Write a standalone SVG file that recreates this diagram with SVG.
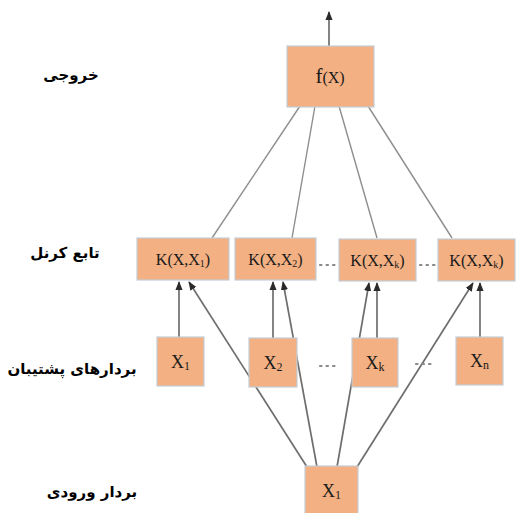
<svg xmlns="http://www.w3.org/2000/svg" width="516" height="513" viewBox="0 0 516 513">
<defs>
<marker id="arr" markerUnits="userSpaceOnUse" markerWidth="9" markerHeight="9" viewBox="0 0 10 10" refX="9" refY="5" orient="auto">
<path d="M0,1 L10,5 L0,9 Z" fill="#2a2a2a"/>
</marker>
<style>
.box{fill:#F3B083;stroke:#C3CDD8;stroke-width:1.2}
.lbl{font-family:"Liberation Serif","Times New Roman",serif;fill:#1a1a1a}
.fa{font-family:"DejaVu Sans",sans-serif;font-weight:bold;font-size:15px;fill:#000;text-anchor:middle}
.up{stroke:#8e8e8e;stroke-width:1.4;fill:none}
.lo{stroke:#6e6e6e;stroke-width:1.7;fill:none}
.dots{stroke:#8a8a8a;stroke-width:2.2;stroke-dasharray:1.5 5;stroke-linecap:round;fill:none}
</style>
</defs>
<rect width="516" height="513" fill="#fff"/>
<g id="labels">
<text class="fa" x="71" y="80" direction="rtl">خروجی</text>
<text class="fa" x="65" y="258" direction="rtl">تابع کرنل</text>
<text class="fa" x="72" y="374" direction="rtl">بردارهای پشتیبان</text>
<text class="fa" x="92" y="497" direction="rtl">بردار ورودی</text>
</g>
<g id="connectors">
<line class="lo" x1="329" y1="46" x2="329" y2="12" marker-end="url(#arr)"/>
<line class="up" x1="300" y1="106" x2="212" y2="238"/>
<line class="up" x1="315" y1="106" x2="292" y2="238"/>
<line class="up" x1="339" y1="106" x2="377" y2="238"/>
<line class="up" x1="368" y1="106" x2="452" y2="238"/>
<line class="lo" x1="179" y1="337" x2="179" y2="282" marker-end="url(#arr)"/>
<line class="lo" x1="273" y1="338" x2="273" y2="282" marker-end="url(#arr)"/>
<line class="lo" x1="377" y1="338" x2="377" y2="283" marker-end="url(#arr)"/>
<line class="lo" x1="480" y1="337" x2="480" y2="283" marker-end="url(#arr)"/>
<line class="lo" x1="307" y1="467" x2="189" y2="282" marker-end="url(#arr)"/>
<line class="lo" x1="317" y1="467" x2="283" y2="282" marker-end="url(#arr)"/>
<line class="lo" x1="337" y1="467" x2="369" y2="283" marker-end="url(#arr)"/>
<line class="lo" x1="357" y1="467" x2="473" y2="283" marker-end="url(#arr)"/>
<line class="dots" x1="320" y1="265" x2="337" y2="265"/>
<line class="dots" x1="420" y1="265" x2="436" y2="265"/>
<line class="dots" x1="320" y1="366" x2="337" y2="366"/>
<line class="dots" x1="416" y1="364" x2="432" y2="364"/>
</g>
<g id="fx">
<rect class="box" x="287" y="46" width="87" height="61"/>
<text class="lbl" x="330" y="83" text-anchor="middle"><tspan font-size="21">f</tspan><tspan font-size="16">(X)</tspan></text>
</g>
<g id="k1">
<rect class="box" x="137" y="238" width="92" height="42"/>
<text class="lbl" x="183" y="265" text-anchor="middle" font-size="16">K(X,X<tspan font-size="10" dy="2">1</tspan><tspan dy="-2">)</tspan></text>
</g>
<g id="k2">
<rect class="box" x="235" y="238" width="81" height="42"/>
<text class="lbl" x="275.5" y="265" text-anchor="middle" font-size="16">K(X,X<tspan font-size="10" dy="2">2</tspan><tspan dy="-2">)</tspan></text>
</g>
<g id="k3">
<rect class="box" x="339" y="239" width="77" height="42"/>
<text class="lbl" x="377.5" y="266" text-anchor="middle" font-size="16">K(X,X<tspan font-size="10" dy="2">k</tspan><tspan dy="-2">)</tspan></text>
</g>
<g id="k4">
<rect class="box" x="438" y="239" width="77" height="42"/>
<text class="lbl" x="476.5" y="266" text-anchor="middle" font-size="16">K(X,X<tspan font-size="10" dy="2">k</tspan><tspan dy="-2">)</tspan></text>
</g>
<g id="x1">
<rect class="box" x="157" y="337" width="47" height="49"/>
<text class="lbl" x="180.5" y="368" text-anchor="middle" font-size="18">X<tspan font-size="12" dy="2">1</tspan></text>
</g>
<g id="x2">
<rect class="box" x="249" y="338" width="48" height="49"/>
<text class="lbl" x="273" y="369" text-anchor="middle" font-size="18">X<tspan font-size="12" dy="2">2</tspan></text>
</g>
<g id="xk">
<rect class="box" x="352" y="338" width="46" height="49"/>
<text class="lbl" x="375" y="369" text-anchor="middle" font-size="18">X<tspan font-size="12" dy="2">k</tspan></text>
</g>
<g id="xn">
<rect class="box" x="456" y="337" width="47" height="48"/>
<text class="lbl" x="479.5" y="367" text-anchor="middle" font-size="18">X<tspan font-size="12" dy="2">n</tspan></text>
</g>
<g id="input">
<rect class="box" x="305" y="466" width="53" height="52"/>
<text class="lbl" x="331.5" y="497" text-anchor="middle" font-size="18">X<tspan font-size="12" dy="2">1</tspan></text>
</g>
</svg>
